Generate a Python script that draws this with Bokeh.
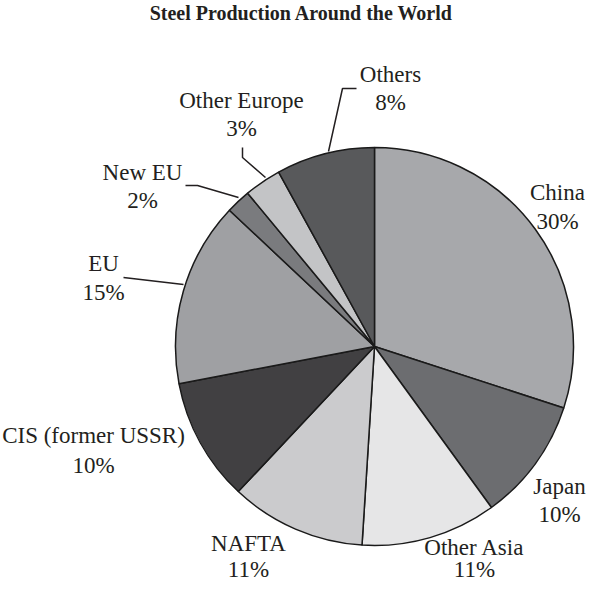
import numpy as np
from bokeh.plotting import figure
from bokeh.models import Range1d, ColumnDataSource
from bokeh.core.properties import value
from bokeh.embed import file_html
from bokeh.resources import INLINE

# ---- data ----
title_text = "Steel Production Around the World"
regions = ["China", "Japan", "Other Asia", "NAFTA", "CIS (former USSR)",
           "EU", "New EU", "Other Europe", "Others"]
shares = [30, 10, 11, 11, 10, 15, 2, 3, 8]
colors = ["#a7a8ab", "#6c6d70", "#e6e6e7", "#cbcbcd", "#414042",
          "#9fa0a3", "#7a7b7e", "#c3c4c6", "#58595b"]

W, H = 588, 584          # figure size in screen pixels (1 data unit = 1 px)
FONT = "Liberation Serif"

def px(x):
    return x

def py(y):
    return H - y

p = figure(width=W, height=H, output_backend="svg", toolbar_location=None,
           x_range=Range1d(0, W), y_range=Range1d(0, H), min_border=0,
           background_fill_color="white", border_fill_color="white")
p.axis.visible = False
p.grid.visible = False
p.outline_line_color = None

# pie geometry (layout)
cx, cy, r = px(374), py(346), 199

vals = np.array(shares, dtype=float)
frac = vals / vals.sum()
cum = np.concatenate([[0], np.cumsum(frac)])
start = np.pi / 2 - 2 * np.pi * cum[:-1]
end = np.pi / 2 - 2 * np.pi * cum[1:]

src = ColumnDataSource(dict(x=[cx] * len(vals), y=[cy] * len(vals),
                            start=start, end=end, color=colors))
p.wedge(x="x", y="y", radius=r, start_angle="start", end_angle="end",
        direction="clock", fill_color="color", line_color="#1a1a1a",
        line_width=1.5, source=src)

# label positions (layout: x, name-line y, pct-line y; screen pixels from top)
label_pos = {
    "China": (557, 192, 221),
    "Japan": (559, 486, 514),
    "Other Asia": (474, 547, 569),
    "NAFTA": (248, 543, 569),
    "CIS (former USSR)": (93, 435, 465),
    "EU": (103, 263, 292),
    "New EU": (142, 172, 200),
    "Other Europe": (241, 100, 128),
    "Others": (390, 74, 102),
}
tx, ty, tt = [], [], []
for name, s in zip(regions, shares):
    x, y1, y2 = label_pos[name]
    tx += [px(x), px(x)]
    ty += [py(y1), py(y2)]
    tt += [name, f"{s}%"]
p.text(x=tx, y=ty, text=tt, text_font=value(FONT), text_font_size="23px",
       text_color="#231f20", text_align="center", text_baseline="middle")

# leader lines (layout)
leaders = [
    [(328, 151), (342, 88), (356, 88)],
    [(265, 177), (242, 157), (242, 147)],
    [(238, 197), (197, 185), (185, 185)],
    [(183, 284), (123, 277)],
]
p.multi_line(xs=[[px(a) for a, b in L] for L in leaders],
             ys=[[py(b) for a, b in L] for L in leaders],
             line_color="#231f20", line_width=1.5)

# title
p.text(x=[px(301)], y=[py(12)], text=[title_text], text_font=value(FONT),
       text_font_size="20px", text_font_style="bold", text_color="#231f20",
       text_align="center", text_baseline="middle")

open("out.html", "w").write(file_html(p, INLINE))
